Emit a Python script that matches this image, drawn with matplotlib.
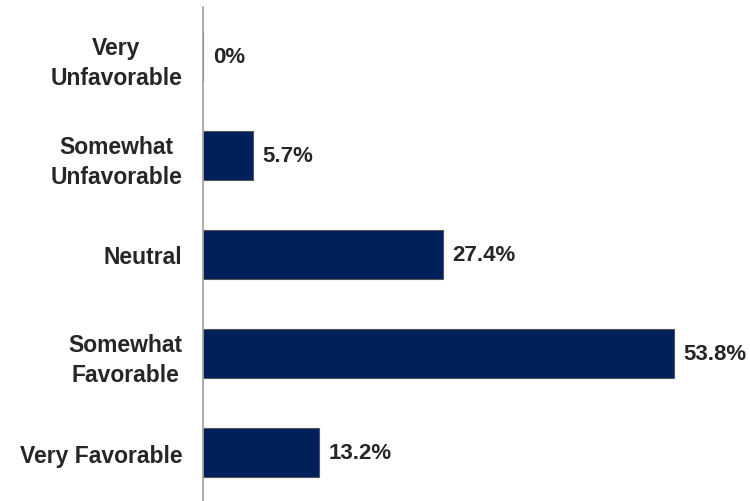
import matplotlib.pyplot as plt

categories = ['Very\nUnfavorable', 'Somewhat\nUnfavorable', 'Neutral',
              'Somewhat\nFavorable', 'Very Favorable']
values = [0.0, 5.7, 27.4, 53.8, 13.2]
value_labels = ['0%', '5.7%', '27.4%', '53.8%', '13.2%']

bar_color = '#00205b'
text_color = '#262626'

plt.rcParams['font.family'] = ['Liberation Sans', 'DejaVu Sans']

fig = plt.figure(figsize=(7.5, 5.02), dpi=100)
ax = fig.add_axes([203 / 750, -1 / 502, 525 / 750, 495 / 502])

ypos = list(range(len(categories)))
ax.barh(ypos, values, height=0.5, color=bar_color, edgecolor='#555555', linewidth=0.8)
for y, v, lab in zip(ypos, values, value_labels):
    ax.text(v + 1.1, y, lab, va='center', ha='left', fontsize=16,
            fontweight='bold', color=text_color)

ax.set_xlim(0, 60)
ax.set_ylim(len(categories) - 0.5, -0.5)
ax.set_yticks(ypos)
ax.set_yticklabels(categories, fontsize=16.5, fontweight='bold', color=text_color,
                   ha='right', multialignment='center', linespacing=1.4)
ax.tick_params(axis='y', length=0, pad=15)
ax.set_xticks([])
for side in ['top', 'right', 'bottom']:
    ax.spines[side].set_visible(False)
ax.spines['left'].set_color('#a0a0a0')
ax.spines['left'].set_linewidth(1.2)

fig.savefig('out.png', dpi=100)
